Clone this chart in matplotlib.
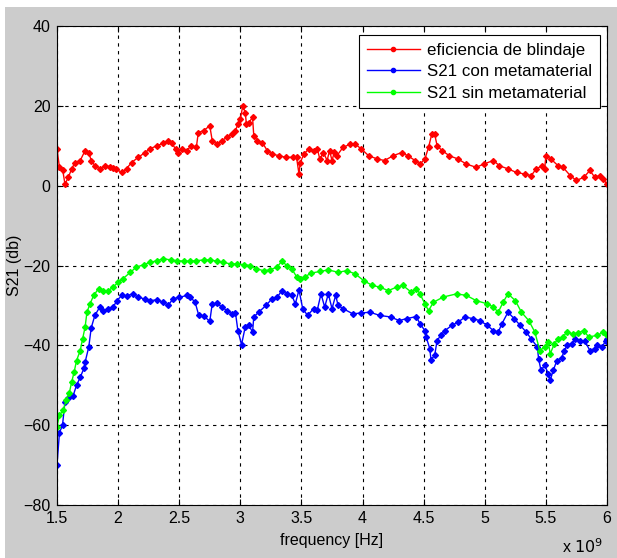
import numpy as np
import matplotlib
matplotlib.use("Agg")
import matplotlib.pyplot as plt
from matplotlib.patches import Rectangle

plt.rcParams['font.family'] = ['Liberation Sans', 'DejaVu Sans']

# eficiencia de blindaje (red) - frequency in GHz, value in dB
f_red = [1.50, 1.52, 1.547, 1.565, 1.593, 1.62, 1.647, 1.69, 1.73, 1.76, 1.78, 1.81,
         1.85, 1.89, 1.93, 1.96, 1.98, 2.03, 2.07, 2.11, 2.165, 2.22, 2.26, 2.315,
         2.37, 2.41, 2.44, 2.47, 2.49, 2.52, 2.56, 2.60, 2.64, 2.656, 2.70, 2.75,
         2.77, 2.81, 2.85, 2.89, 2.93, 2.96, 2.98, 3.00, 3.02, 3.04, 3.05, 3.07,
         3.10, 3.11, 3.14, 3.18, 3.22, 3.26, 3.32, 3.37, 3.43, 3.46, 3.48, 3.49,
         3.52, 3.56, 3.60, 3.63, 3.65, 3.68, 3.71, 3.73, 3.75, 3.77, 3.79, 3.84,
         3.90, 3.94, 3.99, 4.05, 4.12, 4.18, 4.25, 4.32, 4.37, 4.43, 4.47, 4.51,
         4.54, 4.566, 4.59, 4.61, 4.65, 4.71, 4.78, 4.85, 4.93, 4.99, 5.07, 5.12,
         5.19, 5.26, 5.33, 5.38, 5.42, 5.47, 5.49, 5.50, 5.54, 5.60, 5.64, 5.70,
         5.75, 5.81, 5.86, 5.90, 5.94, 5.97, 6.00]
v_red = [9.2, 4.6, 3.9, 0.4, 2.1, 4.2, 5.8, 6.3, 8.8, 8.3, 6.3, 5.0,
         4.2, 5.0, 4.8, 4.4, 4.2, 3.3, 4.3, 5.8, 7.1, 8.3, 9.2, 10.0,
         10.6, 11.3, 10.6, 9.2, 8.3, 9.2, 8.8, 10.0, 9.6, 13.3, 13.8, 15.0,
         11.3, 10.4, 11.3, 12.1, 12.9, 13.8, 15.4, 16.7, 20.0, 18.3, 15.4, 15.8,
         17.1, 12.5, 11.3, 10.8, 8.8, 7.9, 7.5, 7.1, 7.1, 7.1, 2.9, 5.8,
         7.9, 9.2, 8.8, 9.2, 6.7, 8.3, 6.3, 8.8, 6.3, 8.5, 7.5, 9.6,
         10.4, 10.4, 9.2, 7.5, 6.7, 6.3, 7.5, 8.3, 7.5, 6.3, 5.4, 6.7,
         9.6, 12.9, 12.9, 10.0, 8.8, 7.5, 6.7, 5.4, 4.6, 5.4, 6.3, 5.0,
         4.2, 3.3, 2.9, 2.5, 4.2, 5.0, 4.2, 7.5, 6.7, 5.0, 4.6, 2.5,
         1.3, 2.1, 3.8, 2.1, 2.5, 1.7, 0.3]

# S21 con metamaterial (blue)
f_con = [1.50, 1.52, 1.545, 1.565, 1.59, 1.63, 1.66, 1.69, 1.72, 1.73, 1.76, 1.78,
         1.81, 1.85, 1.88, 1.92, 1.96, 1.99, 2.03, 2.07, 2.12, 2.16, 2.22, 2.26,
         2.32, 2.37, 2.41, 2.45, 2.50, 2.56, 2.59, 2.63, 2.66, 2.70, 2.75, 2.77,
         2.81, 2.85, 2.89, 2.93, 2.96, 2.98, 3.01, 3.04, 3.07, 3.10, 3.11, 3.15,
         3.21, 3.26, 3.30, 3.34, 3.38, 3.42, 3.45, 3.48, 3.51, 3.55, 3.60, 3.63,
         3.66, 3.69, 3.72, 3.75, 3.78, 3.80, 3.84, 3.92, 3.99, 4.06, 4.14, 4.23,
         4.30, 4.36, 4.44, 4.47, 4.51, 4.52, 4.55, 4.56, 4.59, 4.61, 4.64, 4.675,
         4.73, 4.78, 4.84, 4.90, 4.96, 5.02, 5.07, 5.11, 5.14, 5.19, 5.24, 5.29,
         5.34, 5.38, 5.43, 5.44, 5.46, 5.49, 5.52, 5.535, 5.56, 5.59, 5.63, 5.65,
         5.675, 5.71, 5.74, 5.78, 5.82, 5.86, 5.90, 5.92, 5.96, 5.99, 6.00]
v_con = [-70.0, -61.9, -60.0, -54.2, -53.1, -52.8, -50.0, -48.0, -45.8, -44.2, -40.4, -35.6,
         -32.5, -30.4, -31.3, -30.8, -30.4, -28.8, -27.5, -27.6, -27.1, -27.9, -28.4, -28.8,
         -28.6, -29.2, -30.0, -28.3, -28.0, -27.5, -27.9, -29.2, -32.5, -32.6, -34.0, -29.6,
         -29.5, -30.4, -31.3, -32.1, -31.8, -36.3, -39.8, -35.4, -35.0, -36.7, -32.9, -31.7,
         -30.0, -28.3, -28.0, -26.3, -27.1, -27.4, -29.6, -26.1, -30.8, -32.5, -30.8, -31.1,
         -27.1, -30.4, -27.1, -30.8, -27.5, -30.0, -30.8, -32.1, -31.9, -31.7, -32.5, -32.9,
         -33.8, -33.3, -32.8, -34.6, -36.3, -37.9, -40.8, -43.6, -42.5, -38.8, -37.5, -36.3,
         -35.0, -34.2, -32.9, -33.3, -33.8, -35.0, -36.3, -36.7, -34.6, -31.7, -33.3, -35.0,
         -36.7, -38.4, -40.4, -43.3, -46.3, -45.0, -47.1, -48.8, -46.3, -43.8, -43.1, -41.3,
         -40.0, -39.6, -38.4, -38.8, -39.0, -41.3, -40.8, -40.0, -40.4, -38.8, -38.3]

# S21 sin metamaterial (green)
f_sin = [1.50, 1.52, 1.55, 1.575, 1.60, 1.62, 1.64, 1.66, 1.69, 1.71, 1.73, 1.745,
         1.77, 1.80, 1.84, 1.88, 1.92, 1.96, 2.00, 2.04, 2.10, 2.15, 2.21, 2.26,
         2.32, 2.37, 2.43, 2.48, 2.54, 2.59, 2.64, 2.70, 2.75, 2.81, 2.86, 2.92,
         2.97, 3.03, 3.08, 3.13, 3.19, 3.24, 3.30, 3.34, 3.38, 3.42, 3.46, 3.49,
         3.53, 3.58, 3.65, 3.72, 3.80, 3.87, 3.94, 4.01, 4.08, 4.14, 4.21, 4.28,
         4.33, 4.40, 4.44, 4.47, 4.51, 4.54, 4.58, 4.66, 4.77, 4.85, 4.93, 5.02,
         5.07, 5.11, 5.15, 5.19, 5.25, 5.30, 5.36, 5.41, 5.45, 5.49, 5.52, 5.535,
         5.57, 5.60, 5.64, 5.67, 5.72, 5.76, 5.81, 5.85, 5.92, 5.97, 6.00]
v_sin = [-60.4, -57.5, -56.3, -53.8, -52.0, -49.2, -46.7, -43.8, -41.3, -38.3, -35.4, -31.7,
         -29.6, -27.5, -25.8, -26.3, -26.3, -25.4, -24.2, -23.3, -21.7, -20.4, -19.8, -19.2,
         -18.8, -18.3, -18.6, -18.8, -18.9, -18.9, -18.8, -18.6, -18.6, -18.9, -19.2, -19.6,
         -19.6, -19.8, -20.0, -20.8, -21.3, -21.1, -20.4, -18.9, -20.0, -20.8, -22.8, -23.3,
         -22.8, -21.9, -21.5, -21.1, -21.7, -21.3, -22.1, -23.8, -25.0, -25.4, -26.3, -25.4,
         -25.0, -26.7, -25.8, -27.1, -29.6, -31.3, -29.2, -27.9, -27.1, -27.5, -28.8, -29.6,
         -30.4, -31.7, -29.2, -27.1, -28.8, -31.7, -33.8, -36.7, -41.3, -40.4, -39.2, -42.1,
         -39.6, -38.3, -37.9, -36.7, -37.1, -36.9, -36.3, -37.9, -37.5, -36.7, -37.5]

series_labels = ['eficiencia de blindaje', 'S21 con metamaterial', 'S21 sin metamaterial']
x_ticks = [1.5, 2, 2.5, 3, 3.5, 4, 4.5, 5, 5.5, 6]
x_tick_labels = ['1.5', '2', '2.5', '3', '3.5', '4', '4.5', '5', '5.5', '6']
y_ticks = [-80, -60, -40, -20, 0, 20, 40]

FS = 11.5

fig = plt.figure(figsize=(6.17, 5.58), dpi=100, facecolor='white')
# matlab style gray figure area with thin white edge
fig.patches.append(Rectangle((5 / 617, 0), 1, 1 - 7 / 558, transform=fig.transFigure,
                             facecolor='#cccccc', edgecolor='none', zorder=-10))

ax = fig.add_axes([57 / 617, 1 - 505 / 558, (607 - 57) / 617, (505 - 26) / 558])
ax.set_facecolor('white')

style = dict(marker='D', markersize=3.0, linewidth=1.0)
ax.plot(f_red, v_red, color='#ff0000', label=series_labels[0], **style)
ax.plot(f_con, v_con, color='#0000ff', label=series_labels[1], **style)
ax.plot(f_sin, v_sin, color='#00ff00', label=series_labels[2], **style)

ax.set_xlim(1.5, 6)
ax.set_ylim(-80, 40)
ax.set_xticks(x_ticks)
ax.set_xticklabels(x_tick_labels)
ax.set_yticks(y_ticks)
ax.grid(True, color='black', linestyle=(0, (3, 4)), linewidth=0.8)
ax.tick_params(direction='in', top=True, right=True, length=4, labelsize=FS, pad=4.5)
for s in ax.spines.values():
    s.set_linewidth(0.8)

ax.set_xlabel('frequency [Hz]', fontsize=FS, labelpad=5)
ax.set_ylabel('S21 (db)', fontsize=FS, labelpad=1)
fig.text(583 / 617, 1 - 547 / 558, r'x $10^{9}$', fontsize=FS, ha='center', va='center')

leg = ax.legend(loc='upper right', bbox_to_anchor=(0.987, 0.981), fontsize=12.2,
                fancybox=False, framealpha=1, edgecolor='black', borderaxespad=0,
                handlelength=3.1, handletextpad=0.45, labelspacing=0.38, borderpad=0.45)
for h in leg.legend_handles:
    h.set_marker('.')
    h.set_markersize(6)
leg.get_frame().set_linewidth(0.8)

plt.savefig('out.png', dpi=100, facecolor=fig.get_facecolor())
